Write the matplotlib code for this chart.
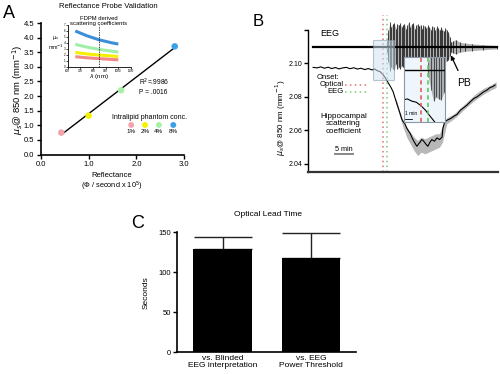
import matplotlib
matplotlib.use("Agg")
import numpy as np
import matplotlib.pyplot as plt
from matplotlib.patches import Rectangle

plt.rcParams['font.family'] = ['Liberation Sans', 'DejaVu Sans']
plt.rcParams['mathtext.fontset'] = 'dejavusans'

# ---- Panel A data: reflectance vs scattering at 850 nm ----
conc_labels = ['1%', '2%', '4%', '8%']
conc_colors = ['#f4a3ad', '#f2f200', '#a8f0a8', '#3ba0e8']
reflectance = [0.43, 1.0, 1.68, 2.8]
mus_850 = [0.75, 1.33, 2.2, 3.7]

# inset: FDPM derived scattering spectra
wavelength = [660, 750, 850, 950, 1000]
spec_8 = [6.0, 5.2, 4.5, 4.0, 3.8]
spec_4 = [3.75, 3.3, 2.9, 2.6, 2.45]
spec_2 = [2.4, 2.15, 1.95, 1.8, 1.7]
spec_1 = [1.68, 1.5, 1.35, 1.22, 1.15]
spec_colors = ['#3c8fd8', '#a0eea8', '#f5f000', '#f08888']

# ---- Panel B data: time in minutes ----
scat_t = [1.4, 2.5, 3.5, 4.5, 5.5, 6.5, 7.5, 8.5, 9.5, 10.5,
          11.5, 12.5, 13.5, 14.5, 15.5, 16.5, 17.5, 18.3, 19.0, 19.7,
          20.4, 21.1, 21.9, 22.6, 23.3, 24.0, 24.6, 25.2, 25.7, 26.1,
          26.5, 27.0, 27.4, 28.0, 28.5, 29.1, 29.8, 30.3, 30.7, 31.1,
          31.5, 32.2, 32.8, 33.4, 33.9, 34.6, 35.3, 36.0, 36.7, 36.9,
          37.4, 38.0, 39.0, 40.0, 40.8, 41.7, 42.6, 43.5, 44.4, 45.4,
          46.3, 47.2, 48.1, 49.0, 49.8, 50.5, 51.2]
scat_v = [2.0975, 2.0972, 2.0978, 2.0970, 2.0976, 2.0968, 2.0974, 2.0966, 2.0972, 2.0975,
          2.0967, 2.0973, 2.0965, 2.0970, 2.0962, 2.0968, 2.0960, 2.0965, 2.0955, 2.0950,
          2.0935, 2.0915, 2.0885, 2.0860, 2.0830, 2.0780, 2.0740, 2.0700, 2.0665, 2.0650,
          2.0640, 2.0615, 2.0600, 2.0580, 2.0555, 2.0530, 2.0505, 2.0520, 2.0530, 2.0545,
          2.0540, 2.0520, 2.0505, 2.0530, 2.0545, 2.0535, 2.0555, 2.0545, 2.0560, 2.0610,
          2.0650, 2.0660, 2.0670, 2.0685, 2.0695, 2.0720, 2.0735, 2.0750, 2.0770, 2.0790,
          2.0800, 2.0815, 2.0830, 2.0840, 2.0855, 2.0860, 2.0870]
halo_t = [24.0, 25.0, 26.0, 27.0, 28.0, 29.0, 30.0, 31.0, 32.0, 33.0, 34.0,
          35.0, 36.0, 36.8, 38.0, 40.0, 42.0, 44.0, 46.0, 48.0, 50.0, 51.5]
halo_lo = [2.0765, 2.069, 2.062, 2.056, 2.052, 2.048, 2.045, 2.047, 2.046, 2.047, 2.048,
           2.049, 2.050, 2.053, 2.064, 2.067, 2.071, 2.075, 2.0785, 2.0815, 2.0840, 2.0855]
halo_hi = [2.0795, 2.072, 2.066, 2.062, 2.059, 2.056, 2.054, 2.056, 2.055, 2.056, 2.057,
           2.058, 2.058, 2.063, 2.0675, 2.070, 2.074, 2.078, 2.082, 2.085, 2.087, 2.089]

eeg_start, eeg_end, eeg_base = 1.4, 51.7, 2.1095
eeg_t = [21.6, 22.0, 22.4, 22.8, 23.2, 23.6, 24.0, 24.4, 24.8, 25.2,
         25.6, 26.0, 26.4, 26.8, 27.2, 27.6, 28.0, 28.4, 28.8, 29.2,
         29.6, 30.0, 30.4, 30.8, 31.2, 31.6, 32.0, 32.4, 32.8, 33.2,
         33.6, 34.0, 34.4, 34.8, 35.2, 35.6, 36.0, 36.4, 36.8, 37.2,
         37.6, 38.0, 38.4, 38.8, 39.2, 39.8, 40.5, 41.5, 43.0, 45.0,
         48.0, 51.7]
eeg_hi = [0.004, 0.010, 0.015, 0.012, 0.014, 0.0145, 0.011, 0.014, 0.013, 0.0145,
          0.012, 0.0135, 0.014, 0.011, 0.0135, 0.015, 0.012, 0.014, 0.0145, 0.011,
          0.013, 0.014, 0.0125, 0.0135, 0.011, 0.013, 0.0125, 0.0115, 0.013, 0.012,
          0.0105, 0.0125, 0.012, 0.010, 0.0125, 0.0115, 0.010, 0.012, 0.0105, 0.0095,
          0.0115, 0.010, 0.009, 0.006, 0.003, 0.004, 0.0045, 0.003, 0.0025, 0.002,
          0.0015, 0.001]
eeg_lo = [0.003, 0.009, 0.014, 0.012, 0.013, 0.0135, 0.010, 0.013, 0.012, 0.013,
          0.011, 0.012, 0.0125, 0.010, 0.012, 0.013, 0.011, 0.0125, 0.012, 0.010,
          0.0115, 0.012, 0.011, 0.0115, 0.0095, 0.011, 0.0105, 0.0095, 0.011, 0.010,
          0.009, 0.0105, 0.0095, 0.0085, 0.010, 0.0095, 0.0085, 0.0095, 0.0085, 0.008,
          0.009, 0.008, 0.0075, 0.005, 0.003, 0.0035, 0.004, 0.003, 0.0025, 0.002,
          0.0015, 0.001]
onset_optical = 20.4
onset_eeg = 21.5
zoom_t = (17.8, 23.5)
zoom_v = (2.0899, 2.1137)

# ---- Panel C data ----
c_labels = ['vs. Blinded\nEEG interpretation', 'vs. EEG\nPower Threshold']
c_means = [128.75, 117.5]
c_err = [15.75, 31.25]

W, H = 500, 374


def box(l, t, r, b):
    return [l / W, 1 - b / H, (r - l) / W, (b - t) / H]


def ftext(x, y, s, **kw):
    fig.text(x / W, 1 - y / H, s, **kw)


fig = plt.figure(figsize=(5, 3.74), dpi=100)

# ================= Panel A =================
ax = fig.add_axes(box(40.7, 23, 184.3, 154.5))
fit = np.polyfit(reflectance, mus_850, 1)
xs = np.array([0.44, 2.8])
ax.plot(xs, np.polyval(fit, xs), color='black', lw=1)
ax.scatter(reflectance, mus_850, s=22, c=conc_colors, zorder=3, linewidths=0)
ax.set_xlim(0, 3.0)
ax.set_ylim(0, 4.5)
ax.set_xticks([0, 1, 2, 3])
ax.set_xticklabels(['0.0', '1.0', '2.0', '3.0'])
ax.set_yticks(np.arange(0, 4.51, 0.5))
ax.set_yticklabels([f'{v:.1f}' for v in np.arange(0, 4.51, 0.5)])
for s in ['top', 'right']:
    ax.spines[s].set_visible(False)
for s in ['left', 'bottom']:
    ax.spines[s].set_linewidth(1.2)
ax.tick_params(labelsize=5.5, length=3, width=1, pad=1.5)
ax.text(2.05, 2.33, 'R$^2$=.9986\nP = .0016', fontsize=4.8, va='center', linespacing=1.1)
ax.text(2.28, 1.27, 'Intralipid phantom conc.', fontsize=5, ha='center', va='center')
leg_x = [1.89, 2.18, 2.47, 2.77]
ax.scatter(leg_x, [1.01] * 4, s=18, c=conc_colors, linewidths=0)
for x, lab in zip(leg_x, conc_labels):
    ax.text(x, 0.80, lab, fontsize=4.5, ha='center', va='center')

ftext(9, 14, 'A', fontsize=13, ha='center', va='center')
ftext(108, 6, 'Reflectance Probe Validation', fontsize=5.5, ha='center', va='center')
ftext(18, 90, r'$\mu_s$@ 850 nm (mm$^{-1}$)', fontsize=6.8, rotation=90,
      ha='center', va='center')
ftext(112, 175.5, 'Reflectance', fontsize=5.5, ha='center', va='center')
ftext(112, 186.5, r'($\Phi$ / second x 10$^5$)', fontsize=5.3, ha='center', va='center')

# inset A
ai = fig.add_axes(box(67.7, 25, 131, 66.7))
for spec, col in zip([spec_8, spec_4, spec_2, spec_1], spec_colors):
    ai.plot(wavelength, spec, color=col, lw=2.2, solid_capstyle='butt')
ai.axvline(850, color='black', lw=0.5, ls=(0, (2, 1.5)))
ai.set_xlim(600, 1100)
ai.set_ylim(0, 7)
ai.set_xticks(range(600, 1101, 100))
ai.set_yticks(range(0, 8))
ai.tick_params(labelsize=2.2, length=1.2, width=0.5, pad=0.4)
for s in ['top', 'right']:
    ai.spines[s].set_visible(False)
for s in ['left', 'bottom']:
    ai.spines[s].set_linewidth(0.6)
ai.patch.set_alpha(0)
ftext(99, 20.5, 'FDPM derived\nscattering coefficients', fontsize=4.2,
      ha='center', va='center', linespacing=1.0)
ftext(99, 76.5, r'$\lambda$ (nm)', fontsize=4.5, ha='center', va='center')
ftext(56, 43, r'$\mu_s$' + '\n' + r'mm$^{-1}$', fontsize=3.8, ha='center', va='center')

# ================= Panel B =================
bx = fig.add_axes(box(308, 29.6, 498, 172))
bx.set_xlim(0, 52)
bx.set_ylim(2.0352, 2.12)


def draw_b(a, lw_base, vline_lw):
    a.plot([eeg_start, eeg_end], [eeg_base, eeg_base], color='black', lw=lw_base,
           clip_on=(a is not bx))
    hi = [eeg_base + h for h in eeg_hi]
    lo = [eeg_base - l for l in eeg_lo]
    a.fill_between(eeg_t, lo, hi, color='#777777', alpha=0.55, lw=0,
                   clip_on=(a is not bx))
    a.vlines(eeg_t, lo, hi, color='black', lw=vline_lw, alpha=0.8,
             clip_on=(a is not bx))
    a.fill_between(halo_t, halo_lo, halo_hi, color='#8a8a8a', alpha=0.6, lw=0)
    a.plot(scat_t, scat_v, color='black', lw=0.8)


draw_b(bx, 1.6, 0.6)
yext = (172 - 15) / (172 - 29.6)
bx.axvline(onset_optical, 0, yext, color='#e07070', lw=1.1, ls=(0, (1, 2.2)), clip_on=False)
bx.axvline(onset_eeg, 0, yext, color='#70d070', lw=1.1, ls=(0, (1, 2.2)), clip_on=False)
bx.add_patch(Rectangle((zoom_t[0], zoom_v[0]), zoom_t[1] - zoom_t[0], zoom_v[1] - zoom_v[0],
                       facecolor='#cfe2f2', alpha=0.55, edgecolor='#8a98a8', lw=0.8, zorder=4))
bx.set_yticks([2.04, 2.06, 2.08, 2.10, 2.12])
bx.set_yticklabels(['2.04', '2.06', '2.08', '2.10', ''])
bx.set_xticks([])
for s in ['top', 'right']:
    bx.spines[s].set_visible(False)
bx.spines['left'].set_linewidth(1.0)
bx.spines['bottom'].set_linewidth(1.6)
bx.spines['bottom'].set_color('#333333')
bx.tick_params(labelsize=5, length=3, width=1, pad=1)

bx.text(6.0, 2.1178, 'EEG', fontsize=6.5, ha='center', va='center')
bx.text(2.4, 2.0913, 'Onset:', fontsize=5.5, ha='left', va='center')
bx.text(9.7, 2.0873, 'Optical', fontsize=5.5, ha='right', va='center')
bx.text(9.7, 2.0829, 'EEG', fontsize=5.5, ha='right', va='center')
bx.plot([10.1, 16.5], [2.0873, 2.0873], color='#e07070', lw=1.1, ls=(0, (1, 2.2)))
bx.plot([10.1, 16.5], [2.0829, 2.0829], color='#70d070', lw=1.1, ls=(0, (1, 2.2)))
bx.text(9.7, 2.0638, 'Hippocampal\nscattering\ncoefficient', fontsize=5.8,
        ha='center', va='center', linespacing=1.15)
bx.text(9.8, 2.0487, '5 min', fontsize=5.2, ha='center', va='center')
bx.plot([7.4, 12.4], [2.0459, 2.0459], color='#888888', lw=1.4)
bx.annotate('PB', xy=(39.1, 2.1047), xytext=(42.7, 2.0880), fontsize=7.5,
            ha='center', va='center',
            arrowprops=dict(arrowstyle='-|>', color='black', lw=0.9,
                            mutation_scale=6, shrinkA=4, shrinkB=0))

ftext(258, 22, 'B', fontsize=12, ha='center', va='center')
ftext(281, 118, r'$\mu_s$@ 850 nm (mm$^{-1}$)', fontsize=5.8, rotation=90,
      ha='center', va='center')

# inset B
bi = fig.add_axes(box(404, 57, 445, 122))
bi.set_facecolor('#eef5fb')
draw_b(bi, 1.0, 0.5)
bi.axvline(onset_optical, color='#e06060', lw=1.2, ls=(0, (2.5, 2)))
bi.axvline(onset_eeg, color='#60c860', lw=1.2, ls=(0, (2.5, 2)))
bi.set_xlim(17.77, 24.2)
bi.set_ylim(2.086, 2.1156)
bi.set_xticks([])
bi.set_yticks([])
for s in bi.spines.values():
    s.set_color('#8a98a8')
    s.set_linewidth(0.8)
bi.text(18.0, 2.0898, '1 min', fontsize=3.5, ha='left', va='center')
bi.plot([18.0, 19.0], [2.0875, 2.0875], color='black', lw=0.6)

# ================= Panel C =================
cx = fig.add_axes(box(177, 232.3, 356, 352.3))
pos = np.arange(len(c_means))
cx.bar(pos, c_means, width=0.66, color='black', zorder=2)
cx.errorbar(pos, c_means, yerr=[[0] * len(c_err), c_err], fmt='none',
            ecolor='#222222', elinewidth=1.0, capsize=21, capthick=1.0, zorder=1)
cx.set_xlim(-0.514, 1.508)
cx.set_ylim(0, 150)
cx.set_yticks([0, 50, 100, 150])
cx.set_xticks(pos)
cx.set_xticklabels(c_labels, fontsize=6, linespacing=1.05)
for s in ['top', 'right']:
    cx.spines[s].set_visible(False)
for s in ['left', 'bottom']:
    cx.spines[s].set_linewidth(1.2)
cx.tick_params(axis='y', labelsize=5.5, length=3, width=1, pad=1.5)
cx.tick_params(axis='x', length=0, pad=2)
cx.set_ylabel('Seconds', fontsize=6, labelpad=6)
ftext(268, 215, 'Optical Lead Time', fontsize=6, ha='center', va='center')
ftext(138, 224, 'C', fontsize=13, ha='center', va='center')

fig.savefig('out.png', dpi=100)
